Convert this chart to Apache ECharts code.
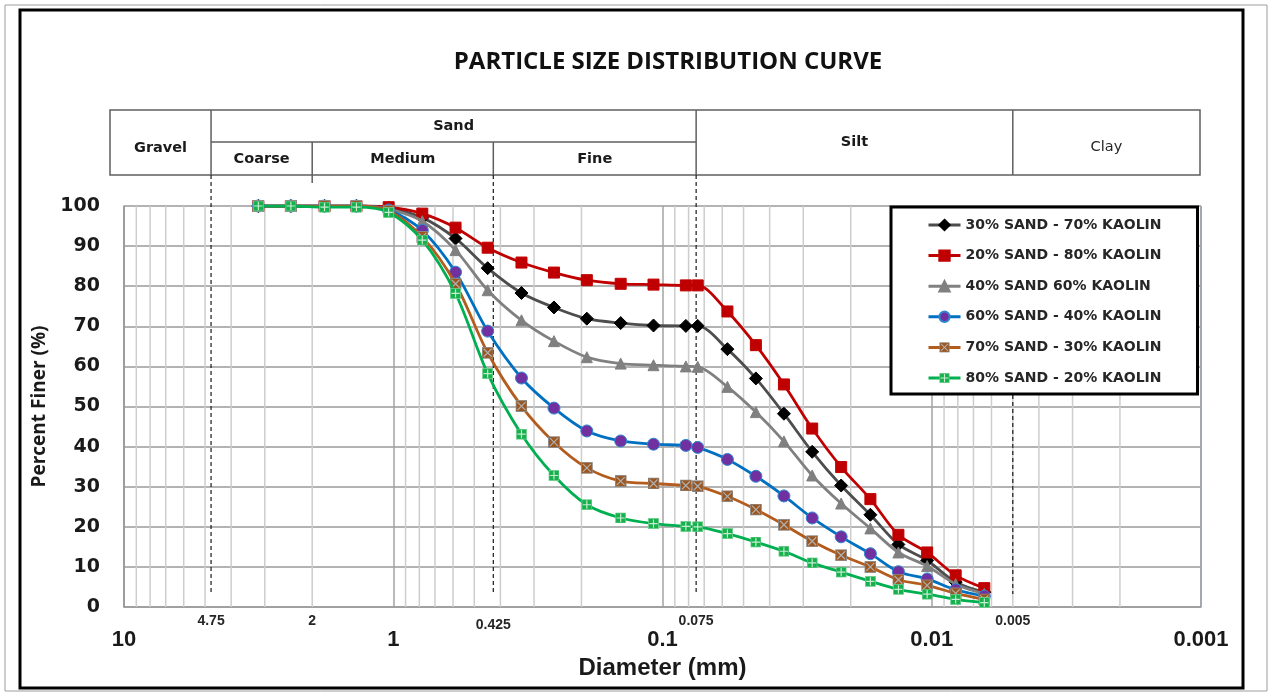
<!DOCTYPE html>
<html>
<head>
<meta charset="utf-8">
<script src="https://cdn.jsdelivr.net/npm/echarts@6/dist/echarts.min.js"></script>
<style>
  html, body { margin: 0; padding: 0; background: #fff; }
  #chart { width: 1271px; height: 695px; }
</style>
</head>
<body>
<div id="chart"></div>
<script>
// Sieve / hydrometer particle diameters (mm)
const sizesMm = [3.17, 2.40, 1.80, 1.37, 1.04, 0.780, 0.587, 0.446, 0.334, 0.253,
                 0.191, 0.143, 0.108, 0.0819, 0.0740, 0.0574, 0.0450, 0.0354, 0.0278,
                 0.0217, 0.0169, 0.0133, 0.0104, 0.00815, 0.00638];

// Percent finer for each mix
const finer30Sand = [100, 100, 100, 100, 99.5, 97.1, 91.9, 84.5, 78.3, 74.7, 71.9, 70.8, 70.2,
                     70.1, 70.1, 64.3, 57.0, 48.2, 38.7, 30.3, 23.0, 15.6, 11.6, 6.2, 3.7];
const finer20Sand = [100, 100, 100, 100, 99.7, 98.1, 94.6, 89.6, 85.9, 83.4, 81.5, 80.6, 80.4,
                     80.2, 80.2, 73.7, 65.3, 55.5, 44.5, 34.9, 26.9, 18.0, 13.6, 7.9, 4.7];
const finer40Sand = [100, 100, 100, 100, 99.2, 96.2, 89.0, 79.0, 71.5, 66.3, 62.3, 60.7, 60.3,
                     60.0, 59.9, 54.9, 48.6, 41.3, 32.8, 25.8, 19.6, 13.6, 10.2, 5.7, 3.3];
const finer60Sand = [100, 100, 100, 100, 99.0, 93.9, 83.5, 68.8, 57.1, 49.6, 43.9, 41.4, 40.6,
                     40.3, 39.8, 36.8, 32.6, 27.7, 22.2, 17.5, 13.3, 8.8, 7.0, 4.3, 2.7];
const finer70Sand = [100, 100, 100, 100, 98.8, 92.3, 80.6, 63.4, 50.1, 41.1, 34.7, 31.4, 30.8,
                     30.3, 30.1, 27.6, 24.3, 20.5, 16.4, 12.9, 10.0, 6.8, 5.4, 3.4, 1.9];
const finer80Sand = [100, 100, 99.7, 99.7, 98.4, 91.5, 78.2, 58.2, 43.1, 32.8, 25.5, 22.2, 20.8,
                     20.1, 20.0, 18.3, 16.2, 13.9, 11.0, 8.7, 6.4, 4.4, 3.2, 1.9, 1.1];

const seriesNames = ['30% SAND - 70% KAOLIN', '20% SAND - 80% KAOLIN', '40% SAND 60% KAOLIN',
                     '60% SAND - 40% KAOLIN', '70% SAND - 30% KAOLIN', '80% SAND - 20% KAOLIN'];

// Soil classification boundaries (mm) and their labels
const boundarySizes = [4.75, 2, 0.425, 0.075, 0.005];
const boundaryLabels = ['4.75', '2', '0.425', '0.075', '0.005'];
const dashedBoundaries = [4.75, 0.425, 0.075, 0.005];

// Axis range
const xMin = 0.001, xMax = 10;

// Minor log grid lines (2..9 of each decade)
const minorGridValues = [];
for (let e = -3; e <= 0; e++) {
  for (let m = 2; m <= 9; m++) minorGridValues.push(+(m * Math.pow(10, e)).toPrecision(3));
}

function svgSymbol(svg) {
  return 'image://data:image/svg+xml;charset=utf-8,' + encodeURIComponent(svg);
}
const brownSymbol = svgSymbol('<svg xmlns="http://www.w3.org/2000/svg" width="24" height="24">' +
  '<rect x="1" y="1" width="22" height="22" fill="#9c5620" stroke="#8c8c8c" stroke-width="2"/>' +
  '<path d="M4 4L20 20M20 4L4 20" stroke="#b0b0b0" stroke-width="2.4"/></svg>');
const greenSymbol = svgSymbol('<svg xmlns="http://www.w3.org/2000/svg" width="24" height="24">' +
  '<rect x="1" y="1" width="22" height="22" fill="#16b04c" stroke="#6fcf8f" stroke-width="2"/>' +
  '<path d="M12 3V21M3 12H21" stroke="#c6ecd2" stroke-width="2.6"/></svg>');

const styles = [
  { data: finer30Sand, line: '#4d4d4d', symbol: 'diamond', size: 13, fill: '#000000', border: '#000000' },
  { data: finer20Sand, line: '#c00000', symbol: 'rect', size: 11, fill: '#c00000', border: '#c00000' },
  { data: finer40Sand, line: '#808080', symbol: 'triangle', size: 11, fill: '#808080', border: '#808080' },
  { data: finer60Sand, line: '#0070c0', symbol: 'circle', size: 12, fill: '#7030a0', border: '#2f86d0' },
  { data: finer70Sand, line: '#b35c1e', symbol: brownSymbol, size: 12, fill: '#9c5620', border: '#9c5620' },
  { data: finer80Sand, line: '#00b050', symbol: greenSymbol, size: 11, fill: '#16b04c', border: '#16b04c' }
];

const chart = echarts.init(document.getElementById('chart'), null, { renderer: 'canvas' });

const lineSeries = styles.map((s, i) => ({
  name: seriesNames[i],
  type: 'line',
  z: 3 + i,
  smooth: 0.3,
  data: sizesMm.map((d, k) => [d, s.data[k]]),
  symbol: s.symbol,
  symbolSize: s.size,
  showAllSymbol: true,
  lineStyle: { color: s.line, width: 2.8 },
  itemStyle: { color: s.fill, borderColor: s.border, borderWidth: 1 },
  emphasis: { disabled: true }
}));

const minorGridSeries = {
  type: 'custom',
  name: 'minor-grid',
  silent: true,
  z: 1,
  data: minorGridValues.map(v => [v, 0]),
  encode: { x: 0, y: 1 },
  renderItem: (params, api) => {
    const top = api.coord([api.value(0), 100]);
    const bottom = api.coord([api.value(0), 0]);
    return {
      type: 'line',
      shape: { x1: top[0], y1: top[1], x2: bottom[0], y2: bottom[1] },
      style: { stroke: '#cdcdcd', lineWidth: 1.5 }
    };
  }
};

chart.setOption({
  animation: false,
  backgroundColor: '#ffffff',
  grid: {
    left: 124, right: 70, top: 206, bottom: 88,
    show: true, borderColor: '#4f6fae', borderWidth: 1, backgroundColor: 'transparent'
  },
  legend: {
    data: seriesNames,
    orient: 'vertical',
    left: 891, top: 207,
    padding: [11, 36, 9, 36],
    itemGap: 16.6,
    itemWidth: 32,
    itemHeight: 13,
    borderColor: '#000000',
    borderWidth: 3,
    backgroundColor: '#ffffff',
    selectedMode: false,
    z: 10,
    lineStyle: { width: 3 },
    textStyle: { fontFamily: 'DejaVu Sans', fontWeight: 'bold', fontSize: 14, color: '#262626', lineHeight: 14 }
  },
  xAxis: {
    type: 'log',
    logBase: 10,
    min: xMin,
    max: xMax,
    inverse: true,
    name: 'Diameter (mm)',
    nameLocation: 'middle',
    nameGap: 47,
    nameTextStyle: { fontFamily: 'Liberation Sans Narrow, Liberation Sans', fontWeight: 'bold', fontSize: 24, color: '#1a1a1a' },
    axisLine: { show: true, lineStyle: { color: '#9a9a9a', width: 1.5 } },
    axisTick: { show: false },
    axisLabel: {
      margin: 22,
      fontFamily: 'Liberation Sans Narrow, Liberation Sans',
      fontWeight: 'bold',
      fontSize: 22,
      color: '#1a1a1a',
      formatter: v => (v >= 1 ? String(Math.round(v)) : String(Number(v.toPrecision(1))))
    },
    splitLine: { show: true, lineStyle: { color: '#a3a3a3', width: 1.5 } }
  },
  yAxis: {
    type: 'value',
    min: 0, max: 100, interval: 10,
    name: 'Percent Finer (%)',
    nameLocation: 'middle',
    nameRotate: 90,
    nameGap: 74,
    nameTextStyle: { fontFamily: 'Open Sans', fontWeight: 'bold', fontSize: 19, color: '#1a1a1a' },
    axisLine: { show: true, lineStyle: { color: '#9a9a9a', width: 1.5 } },
    axisTick: { show: false },
    axisLabel: { margin: 24, fontFamily: 'DejaVu Sans', fontWeight: 'bold', fontSize: 19, color: '#1a1a1a' },
    splitLine: { show: true, lineStyle: { color: '#b3b3b3', width: 1.8 } }
  },
  series: [minorGridSeries].concat(lineSeries)
});

// Header table, boundary lines, labels, title and frame
const px = v => chart.convertToPixel({ xAxisIndex: 0 }, v);
const plotTop = chart.convertToPixel({ yAxisIndex: 0 }, 100);
const plotBottom = chart.convertToPixel({ yAxisIndex: 0 }, 0);
const tableLeft = 110, tableRight = px(xMin) - 1, tableTop = 110, tableMid = 142, tableBottom = 175;
const tableStroke = { stroke: '#5f5f5f', lineWidth: 1.5 };

function line(x1, y1, x2, y2, style, z) {
  return { type: 'line', z: z || 1, silent: true, shape: { x1, y1, x2, y2 }, style };
}
function text(x, y, str, font, fill) {
  return { type: 'text', z: 6, silent: true, x, y,
    style: { text: str, font, fill: fill || '#1a1a1a', align: 'center', verticalAlign: 'middle' } };
}

const xGravel = px(4.75), xCoarse = px(2), xMedium = px(0.425), xSand = px(0.075), xSilt = px(0.005);
const headFont = 'bold 14.5px "DejaVu Sans"';

const graphics = [
  // outer frames
  { type: 'rect', z: 0, silent: true, shape: { x: 5, y: 5, width: 1262, height: 686 },
    style: { fill: 'transparent', stroke: '#9d9d9d', lineWidth: 1 } },
  { type: 'rect', z: 0, silent: true, shape: { x: 20, y: 10, width: 1223, height: 678 },
    style: { fill: 'transparent', stroke: '#000000', lineWidth: 3 } },
  // title
  text(668, 62, 'PARTICLE SIZE DISTRIBUTION CURVE', 'bold 24px "Open Sans"', '#111111'),
  // header table
  { type: 'rect', z: 1, silent: true,
    shape: { x: tableLeft, y: tableTop, width: tableRight - tableLeft, height: tableBottom - tableTop },
    style: Object.assign({ fill: 'transparent' }, tableStroke) },
  line(xGravel, tableMid, xSand, tableMid, tableStroke),
  line(xGravel, tableTop, xGravel, tableBottom, tableStroke),
  line(xCoarse, tableMid, xCoarse, tableBottom + 8, tableStroke),
  line(xMedium, tableMid, xMedium, tableBottom, tableStroke),
  line(xSand, tableTop, xSand, tableBottom, tableStroke),
  line(xSilt, tableTop, xSilt, tableBottom, tableStroke),
  text((tableLeft + xGravel) / 2, 148, 'Gravel', headFont),
  text((xGravel + xSand) / 2, 126, 'Sand', headFont),
  text((xGravel + xCoarse) / 2, 159, 'Coarse', headFont),
  text((xCoarse + xMedium) / 2, 159, 'Medium', headFont),
  text((xMedium + xSand) / 2, 159, 'Fine', headFont),
  text((xSand + xSilt) / 2, 142, 'Silt', headFont),
  text((xSilt + tableRight) / 2, 147, 'Clay', '14.5px "DejaVu Sans"', '#262626')
];

// dashed classification boundaries
dashedBoundaries.forEach(v => {
  const x = px(v);
  graphics.push(line(x, v === 0.005 ? plotTop : tableBottom, x, plotBottom - 13,
    { stroke: '#1a1a1a', lineWidth: 1.2, lineDash: [4, 3] }, 1));
});

// boundary size labels under the axis
boundarySizes.forEach((v, i) => {
  graphics.push(text(px(v), i === 2 ? 625 : 621, boundaryLabels[i],
    'bold 14px "Liberation Sans Narrow", "Liberation Sans"', '#262626'));
});

chart.setOption({ graphic: graphics });
</script>
</body>
</html>
